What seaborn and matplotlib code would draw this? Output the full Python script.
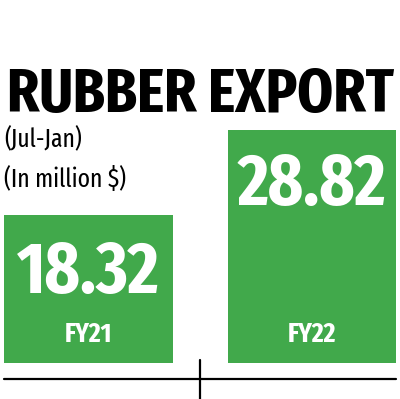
import matplotlib
matplotlib.use("Agg")
import matplotlib.pyplot as plt
from matplotlib import font_manager
import seaborn as sns
import pandas as pd

# ---- data ----
categories = ["FY21", "FY22"]
values = [18.32, 28.82]
value_labels = ["18.32", "28.82"]
title = "RUBBER EXPORT"
subtitle_lines = ["(Jul-Jan)", "(In million $)"]

GREEN = "#41A94B"

sns.set_theme(style="white")

names = {f.name for f in font_manager.fontManager.ttflist}
FONT = "DejaVu Sans"
EXTRA = False
for cand in ["Fira Sans Extra Condensed", "Fira Sans Condensed", "Archivo Narrow"]:
    if cand in names:
        FONT = cand
        EXTRA = cand == "Fira Sans Extra Condensed"
        break
plt.rcParams["font.family"] = [FONT, "DejaVu Sans"]
k = 1.0 if EXTRA else 0.88

W, H = 400, 399
fig = plt.figure(figsize=(W / 100, H / 100), dpi=100)
fig.patch.set_facecolor("white")
ax = fig.add_axes([0, 0, 1, 1])

df = pd.DataFrame({"cat": categories, "val": values})
sns.barplot(data=df, x="cat", y="val", color=GREEN, saturation=1,
            width=0.756, ax=ax, edgecolor="none")

# pixel mapping
px_per_unit_x = 223.5
x0 = 88.5
ax.set_xlim(-x0 / px_per_unit_x, 1 + (W - 312) / px_per_unit_x)
ppu = 8.1
base_from_bottom = 36
ax.set_ylim(-base_from_bottom / ppu, (H - base_from_bottom) / ppu)
ax.axis("off")

def fy(ypix_top):
    return (H - ypix_top) / H

# axis-like lines
line_y = (H - 379 - base_from_bottom) / ppu
ax.axhline(line_y, xmin=4 / W, xmax=396 / W, color="black", lw=1.6)
ax.axvline(0.5, ymin=0, ymax=(H - 360) / H, color="black", lw=1.6)

# value + category labels inside bars
val_baselines = [293, 205]
for i, (lab, cat) in enumerate(zip(value_labels, categories)):
    yb = (H - val_baselines[i] - base_from_bottom) / ppu
    ax.text(i, yb, lab, ha="center", va="baseline", color="white",
            fontsize=52.5 * k, fontweight="bold")
    yc = (H - 342 - base_from_bottom) / ppu
    ax.text(i, yc, cat, ha="center", va="baseline", color="white",
            fontsize=20 * k, fontweight="bold")

# title and subtitle
fig.text(7 / W, fy(112), title, ha="left", va="baseline", color="black",
         fontsize=45 * k, fontweight="bold")
fig.text(4 / W, fy(147), subtitle_lines[0], ha="left", va="baseline",
         color="black", fontsize=18.5 * k)
fig.text(4 / W, fy(187), subtitle_lines[1], ha="left", va="baseline",
         color="black", fontsize=18.5 * k)

fig.savefig("out.png", dpi=100, facecolor="white")
